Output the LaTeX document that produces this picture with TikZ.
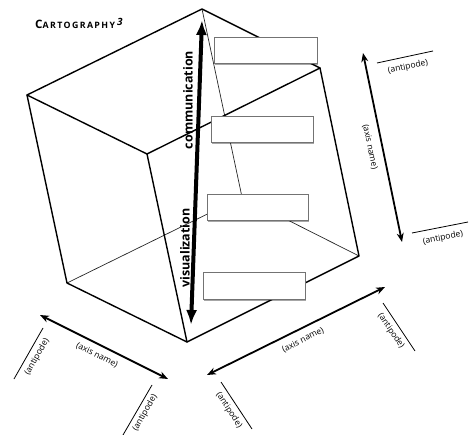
\documentclass[tikz,border=0pt]{standalone}
\usepackage{fontspec}
\setmainfont{Open Sans}
\newfontfamily\titlefont[LetterSpace=16]{Open Sans}
\usetikzlibrary{arrows.meta,shadows}
\begin{document}
\begin{tikzpicture}[x=1pt,y=-1pt,
  edge/.style={line width=1.4pt, line join=round, line cap=round},
  hidden/.style={line width=0.7pt, draw=black!85},
  lbl/.style={font=\fontsize{8.5}{9}\selectfont, inner sep=0pt},
  blank/.style={draw=black!55, line width=1pt, fill=white, minimum width=102pt, minimum height=26pt, inner sep=0pt,
     drop shadow={shadow xshift=1.3pt, shadow yshift=-1.3pt, opacity=0.35, fill=black}},
  axis/.style={line width=1.8pt, {Stealth[length=9pt,width=7pt]}-{Stealth[length=9pt,width=7pt]}},
  tickline/.style={line width=0.8pt},
  bigarrow/.style={line width=4pt, {Latex[length=15pt,width=11pt]}-{Latex[length=15pt,width=11pt]}},
  vlabel/.style={font=\bfseries\fontsize{12.5}{13}\selectfont, rotate=90, inner sep=0pt}
]
\useasboundingbox (0,0) rectangle (476,435);

% cube vertices
\coordinate (T) at (202,9);
\coordinate (L) at (27,95);
\coordinate (F) at (147,154);
\coordinate (R) at (320,68);
\coordinate (B) at (187,342);
\coordinate (BR) at (359,256);
\coordinate (LB) at (67,283);
\coordinate (H) at (242,197);

% hidden edges
\draw[hidden] (T) -- (H);
\draw[hidden] (H) -- (BR);
\draw[hidden] (H) -- (LB);

% visible edges
\draw[edge] (T) -- (R) -- (BR) -- (B) -- (LB) -- (L) -- cycle;
\draw[edge] (L) -- (F) -- (R);
\draw[edge] (F) -- (B);

% blank boxes
\node[blank, minimum width=103pt] (box1) at (265.5,51) {};
\node[blank] (box2) at (262,130) {};
\node[blank, minimum width=101pt] (box3) at (257.5,208) {};
\node[blank, minimum height=27pt] (box4) at (254,286.5) {};

% main vertical arrow
\coordinate (vtop) at (202,20);
\coordinate (vbot) at (191,325);
\draw[bigarrow] (vtop) -- (vbot);
\node[vlabel] (comm) at (188,100) {communication};
\node[vlabel] (visu) at (185,248) {visualization};

% title
\node[anchor=base west, inner sep=0pt] (title) at (35,29)
  {\titlefont\bfseries{\fontsize{11.6}{12}\selectfont C}{\fontsize{8.8}{9}\selectfont ARTOGRAPHY}\kern2pt\raisebox{3pt}{\itshape\fontsize{10}{10}\selectfont 3}};

% right axis
\coordinate (ra1) at (363,53);
\coordinate (ra2) at (402,242);
\draw[axis] (ra1) -- (ra2);
\node[lbl, rotate=-78] (ran) at (370,147) {(axis name)};
\coordinate (rt1) at (377,63);
\coordinate (rt2) at (433,51);
\draw[tickline] (rt1) -- (rt2);
\node[lbl, rotate=12] (rtl) at (408,67) {(antipode)};
\coordinate (rb1) at (412,233);
\coordinate (rb2) at (468,222);
\draw[tickline] (rb1) -- (rb2);
\node[lbl, rotate=11] (rbl) at (443,238) {(antipode)};

% bottom-left axis
\coordinate (la1) at (40,315);
\coordinate (la2) at (168,379);
\draw[axis] (la1) -- (la2);
\node[lbl, rotate=-26.6] (lan) at (97,355) {(axis name)};
\coordinate (lt1) at (43,328);
\coordinate (lt2) at (14,379);
\draw[tickline] (lt1) -- (lt2);
\node[lbl, rotate=60] (ltl) at (37,357) {(antipode)};
\coordinate (lu1) at (152,385);
\coordinate (lu2) at (123,435);
\draw[tickline] (lu1) -- (lu2);
\node[lbl, rotate=60] (lul) at (145,413) {(antipode)};

% bottom-right axis
\coordinate (ba1) at (207,375);
\coordinate (ba2) at (385,287);
\draw[axis] (ba1) -- (ba2);
\node[lbl, rotate=26.3] (ban) at (303,340) {(axis name)};
\coordinate (bt1) at (383,303);
\coordinate (bt2) at (415,351);
\draw[tickline] (bt1) -- (bt2);
\node[lbl, rotate=-56] (btl) at (391,331) {(antipode)};
\coordinate (bu1) at (221,382);
\coordinate (bu2) at (252,429);
\draw[tickline] (bu1) -- (bu2);
\node[lbl, rotate=-57] (bul) at (229,410) {(antipode)};
\end{tikzpicture}
\end{document}
